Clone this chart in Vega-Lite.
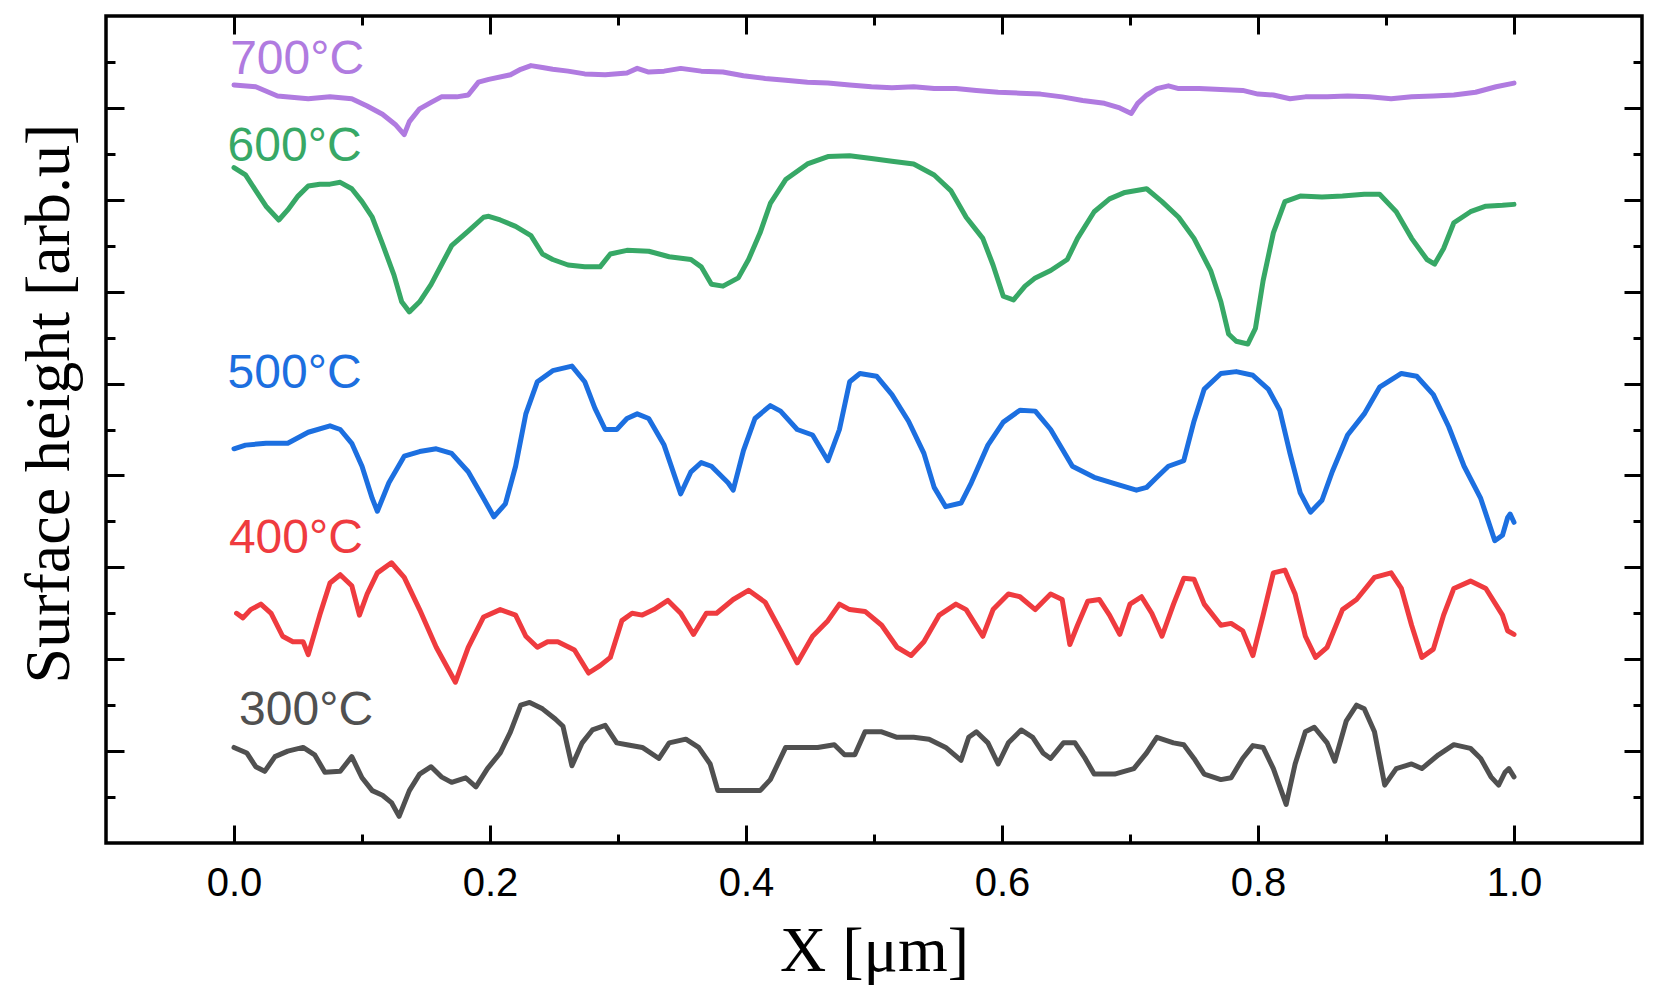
{
  "$schema": "https://vega.github.io/schema/vega-lite/v6.json",
  "width": 1536,
  "height": 827,
  "autosize": {"type": "none"},
  "padding": {"left": 106, "top": 16, "right": 22, "bottom": 153},
  "background": "white",
  "config": {
    "view": {"stroke": "black", "strokeWidth": 3.5},
    "axis": {
      "domain": false,
      "grid": false,
      "tickColor": "black",
      "tickWidth": 3,
      "labelColor": "black",
      "labelFont": "Liberation Sans",
      "labelFontSize": 40,
      "titleFont": "Liberation Serif",
      "titleFontSize": 64,
      "titleFontWeight": "normal",
      "titleColor": "black"
    }
  },
  "datasets": {
    "labels": [
      {"temp": "300°C", "x": 0.004, "height": 0.28},
      {"temp": "400°C", "x": -0.004, "height": 2.16},
      {"temp": "500°C", "x": -0.005, "height": 3.95},
      {"temp": "600°C", "x": -0.005, "height": 6.42},
      {"temp": "700°C", "x": -0.003, "height": 7.37}
    ],
    "profiles": [
      {"temp": "700°C", "x": 0.000, "height": 7.25},
      {"temp": "700°C", "x": 0.017, "height": 7.23},
      {"temp": "700°C", "x": 0.034, "height": 7.13},
      {"temp": "700°C", "x": 0.058, "height": 7.10},
      {"temp": "700°C", "x": 0.075, "height": 7.12},
      {"temp": "700°C", "x": 0.092, "height": 7.10},
      {"temp": "700°C", "x": 0.104, "height": 7.02},
      {"temp": "700°C", "x": 0.116, "height": 6.93},
      {"temp": "700°C", "x": 0.126, "height": 6.82},
      {"temp": "700°C", "x": 0.133, "height": 6.71},
      {"temp": "700°C", "x": 0.137, "height": 6.85},
      {"temp": "700°C", "x": 0.145, "height": 6.99},
      {"temp": "700°C", "x": 0.154, "height": 7.06},
      {"temp": "700°C", "x": 0.162, "height": 7.12},
      {"temp": "700°C", "x": 0.174, "height": 7.12},
      {"temp": "700°C", "x": 0.183, "height": 7.14},
      {"temp": "700°C", "x": 0.191, "height": 7.28},
      {"temp": "700°C", "x": 0.199, "height": 7.31},
      {"temp": "700°C", "x": 0.216, "height": 7.36},
      {"temp": "700°C", "x": 0.224, "height": 7.42},
      {"temp": "700°C", "x": 0.232, "height": 7.46},
      {"temp": "700°C", "x": 0.241, "height": 7.44},
      {"temp": "700°C", "x": 0.249, "height": 7.42},
      {"temp": "700°C", "x": 0.261, "height": 7.40},
      {"temp": "700°C", "x": 0.274, "height": 7.37},
      {"temp": "700°C", "x": 0.290, "height": 7.36},
      {"temp": "700°C", "x": 0.307, "height": 7.38},
      {"temp": "700°C", "x": 0.315, "height": 7.43},
      {"temp": "700°C", "x": 0.324, "height": 7.39},
      {"temp": "700°C", "x": 0.336, "height": 7.40},
      {"temp": "700°C", "x": 0.349, "height": 7.43},
      {"temp": "700°C", "x": 0.365, "height": 7.40},
      {"temp": "700°C", "x": 0.382, "height": 7.39},
      {"temp": "700°C", "x": 0.398, "height": 7.35},
      {"temp": "700°C", "x": 0.415, "height": 7.32},
      {"temp": "700°C", "x": 0.431, "height": 7.30},
      {"temp": "700°C", "x": 0.448, "height": 7.28},
      {"temp": "700°C", "x": 0.464, "height": 7.27},
      {"temp": "700°C", "x": 0.481, "height": 7.25},
      {"temp": "700°C", "x": 0.498, "height": 7.23},
      {"temp": "700°C", "x": 0.514, "height": 7.22},
      {"temp": "700°C", "x": 0.531, "height": 7.23},
      {"temp": "700°C", "x": 0.547, "height": 7.21},
      {"temp": "700°C", "x": 0.564, "height": 7.21},
      {"temp": "700°C", "x": 0.580, "height": 7.19},
      {"temp": "700°C", "x": 0.597, "height": 7.17},
      {"temp": "700°C", "x": 0.614, "height": 7.16},
      {"temp": "700°C", "x": 0.630, "height": 7.15},
      {"temp": "700°C", "x": 0.647, "height": 7.12},
      {"temp": "700°C", "x": 0.663, "height": 7.08},
      {"temp": "700°C", "x": 0.680, "height": 7.05},
      {"temp": "700°C", "x": 0.692, "height": 7.00},
      {"temp": "700°C", "x": 0.701, "height": 6.94},
      {"temp": "700°C", "x": 0.706, "height": 7.05},
      {"temp": "700°C", "x": 0.713, "height": 7.14},
      {"temp": "700°C", "x": 0.721, "height": 7.21},
      {"temp": "700°C", "x": 0.730, "height": 7.24},
      {"temp": "700°C", "x": 0.738, "height": 7.21},
      {"temp": "700°C", "x": 0.754, "height": 7.21},
      {"temp": "700°C", "x": 0.771, "height": 7.20},
      {"temp": "700°C", "x": 0.788, "height": 7.19},
      {"temp": "700°C", "x": 0.800, "height": 7.15},
      {"temp": "700°C", "x": 0.812, "height": 7.14},
      {"temp": "700°C", "x": 0.825, "height": 7.10},
      {"temp": "700°C", "x": 0.837, "height": 7.12},
      {"temp": "700°C", "x": 0.854, "height": 7.12},
      {"temp": "700°C", "x": 0.870, "height": 7.13},
      {"temp": "700°C", "x": 0.887, "height": 7.12},
      {"temp": "700°C", "x": 0.904, "height": 7.10},
      {"temp": "700°C", "x": 0.920, "height": 7.12},
      {"temp": "700°C", "x": 0.937, "height": 7.13},
      {"temp": "700°C", "x": 0.953, "height": 7.14},
      {"temp": "700°C", "x": 0.970, "height": 7.17},
      {"temp": "700°C", "x": 0.986, "height": 7.23},
      {"temp": "700°C", "x": 1.000, "height": 7.27},

      {"temp": "600°C", "x": 0.000, "height": 6.35},
      {"temp": "600°C", "x": 0.009, "height": 6.27},
      {"temp": "600°C", "x": 0.017, "height": 6.10},
      {"temp": "600°C", "x": 0.025, "height": 5.93},
      {"temp": "600°C", "x": 0.035, "height": 5.78},
      {"temp": "600°C", "x": 0.042, "height": 5.89},
      {"temp": "600°C", "x": 0.050, "height": 6.04},
      {"temp": "600°C", "x": 0.058, "height": 6.15},
      {"temp": "600°C", "x": 0.067, "height": 6.17},
      {"temp": "600°C", "x": 0.075, "height": 6.17},
      {"temp": "600°C", "x": 0.083, "height": 6.19},
      {"temp": "600°C", "x": 0.092, "height": 6.12},
      {"temp": "600°C", "x": 0.100, "height": 5.98},
      {"temp": "600°C", "x": 0.108, "height": 5.81},
      {"temp": "600°C", "x": 0.116, "height": 5.52},
      {"temp": "600°C", "x": 0.125, "height": 5.18},
      {"temp": "600°C", "x": 0.131, "height": 4.89},
      {"temp": "600°C", "x": 0.137, "height": 4.78},
      {"temp": "600°C", "x": 0.145, "height": 4.89},
      {"temp": "600°C", "x": 0.154, "height": 5.08},
      {"temp": "600°C", "x": 0.162, "height": 5.29},
      {"temp": "600°C", "x": 0.170, "height": 5.50},
      {"temp": "600°C", "x": 0.183, "height": 5.66},
      {"temp": "600°C", "x": 0.195, "height": 5.81},
      {"temp": "600°C", "x": 0.199, "height": 5.82},
      {"temp": "600°C", "x": 0.208, "height": 5.78},
      {"temp": "600°C", "x": 0.220, "height": 5.71},
      {"temp": "600°C", "x": 0.232, "height": 5.61},
      {"temp": "600°C", "x": 0.241, "height": 5.41},
      {"temp": "600°C", "x": 0.249, "height": 5.35},
      {"temp": "600°C", "x": 0.261, "height": 5.29},
      {"temp": "600°C", "x": 0.274, "height": 5.27},
      {"temp": "600°C", "x": 0.286, "height": 5.27},
      {"temp": "600°C", "x": 0.294, "height": 5.41},
      {"temp": "600°C", "x": 0.307, "height": 5.45},
      {"temp": "600°C", "x": 0.324, "height": 5.44},
      {"temp": "600°C", "x": 0.340, "height": 5.38},
      {"temp": "600°C", "x": 0.357, "height": 5.35},
      {"temp": "600°C", "x": 0.365, "height": 5.27},
      {"temp": "600°C", "x": 0.373, "height": 5.08},
      {"temp": "600°C", "x": 0.382, "height": 5.06},
      {"temp": "600°C", "x": 0.394, "height": 5.15},
      {"temp": "600°C", "x": 0.402, "height": 5.35},
      {"temp": "600°C", "x": 0.411, "height": 5.64},
      {"temp": "600°C", "x": 0.419, "height": 5.96},
      {"temp": "600°C", "x": 0.431, "height": 6.22},
      {"temp": "600°C", "x": 0.448, "height": 6.39},
      {"temp": "600°C", "x": 0.464, "height": 6.47},
      {"temp": "600°C", "x": 0.481, "height": 6.48},
      {"temp": "600°C", "x": 0.498, "height": 6.45},
      {"temp": "600°C", "x": 0.514, "height": 6.42},
      {"temp": "600°C", "x": 0.531, "height": 6.39},
      {"temp": "600°C", "x": 0.547, "height": 6.27},
      {"temp": "600°C", "x": 0.560, "height": 6.10},
      {"temp": "600°C", "x": 0.572, "height": 5.81},
      {"temp": "600°C", "x": 0.585, "height": 5.58},
      {"temp": "600°C", "x": 0.593, "height": 5.29},
      {"temp": "600°C", "x": 0.601, "height": 4.95},
      {"temp": "600°C", "x": 0.609, "height": 4.91},
      {"temp": "600°C", "x": 0.618, "height": 5.06},
      {"temp": "600°C", "x": 0.626, "height": 5.15},
      {"temp": "600°C", "x": 0.638, "height": 5.23},
      {"temp": "600°C", "x": 0.651, "height": 5.35},
      {"temp": "600°C", "x": 0.659, "height": 5.58},
      {"temp": "600°C", "x": 0.672, "height": 5.87},
      {"temp": "600°C", "x": 0.684, "height": 6.01},
      {"temp": "600°C", "x": 0.696, "height": 6.08},
      {"temp": "600°C", "x": 0.713, "height": 6.12},
      {"temp": "600°C", "x": 0.725, "height": 5.98},
      {"temp": "600°C", "x": 0.738, "height": 5.81},
      {"temp": "600°C", "x": 0.750, "height": 5.58},
      {"temp": "600°C", "x": 0.763, "height": 5.23},
      {"temp": "600°C", "x": 0.771, "height": 4.89},
      {"temp": "600°C", "x": 0.777, "height": 4.54},
      {"temp": "600°C", "x": 0.783, "height": 4.46},
      {"temp": "600°C", "x": 0.792, "height": 4.43},
      {"temp": "600°C", "x": 0.798, "height": 4.60},
      {"temp": "600°C", "x": 0.804, "height": 5.12},
      {"temp": "600°C", "x": 0.812, "height": 5.64},
      {"temp": "600°C", "x": 0.821, "height": 5.98},
      {"temp": "600°C", "x": 0.833, "height": 6.04},
      {"temp": "600°C", "x": 0.850, "height": 6.03},
      {"temp": "600°C", "x": 0.866, "height": 6.04},
      {"temp": "600°C", "x": 0.883, "height": 6.06},
      {"temp": "600°C", "x": 0.895, "height": 6.06},
      {"temp": "600°C", "x": 0.908, "height": 5.87},
      {"temp": "600°C", "x": 0.920, "height": 5.58},
      {"temp": "600°C", "x": 0.932, "height": 5.35},
      {"temp": "600°C", "x": 0.938, "height": 5.30},
      {"temp": "600°C", "x": 0.945, "height": 5.47},
      {"temp": "600°C", "x": 0.953, "height": 5.75},
      {"temp": "600°C", "x": 0.966, "height": 5.87},
      {"temp": "600°C", "x": 0.978, "height": 5.93},
      {"temp": "600°C", "x": 0.991, "height": 5.94},
      {"temp": "600°C", "x": 1.000, "height": 5.95},

      {"temp": "500°C", "x": 0.000, "height": 3.29},
      {"temp": "500°C", "x": 0.009, "height": 3.33},
      {"temp": "500°C", "x": 0.025, "height": 3.35},
      {"temp": "500°C", "x": 0.042, "height": 3.35},
      {"temp": "500°C", "x": 0.058, "height": 3.47},
      {"temp": "500°C", "x": 0.075, "height": 3.54},
      {"temp": "500°C", "x": 0.083, "height": 3.50},
      {"temp": "500°C", "x": 0.092, "height": 3.35},
      {"temp": "500°C", "x": 0.100, "height": 3.10},
      {"temp": "500°C", "x": 0.108, "height": 2.75},
      {"temp": "500°C", "x": 0.112, "height": 2.61},
      {"temp": "500°C", "x": 0.121, "height": 2.92},
      {"temp": "500°C", "x": 0.133, "height": 3.21},
      {"temp": "500°C", "x": 0.145, "height": 3.26},
      {"temp": "500°C", "x": 0.158, "height": 3.29},
      {"temp": "500°C", "x": 0.170, "height": 3.24},
      {"temp": "500°C", "x": 0.183, "height": 3.04},
      {"temp": "500°C", "x": 0.195, "height": 2.75},
      {"temp": "500°C", "x": 0.203, "height": 2.55},
      {"temp": "500°C", "x": 0.212, "height": 2.69},
      {"temp": "500°C", "x": 0.220, "height": 3.10},
      {"temp": "500°C", "x": 0.228, "height": 3.67},
      {"temp": "500°C", "x": 0.237, "height": 4.02},
      {"temp": "500°C", "x": 0.249, "height": 4.14},
      {"temp": "500°C", "x": 0.264, "height": 4.19},
      {"temp": "500°C", "x": 0.274, "height": 4.02},
      {"temp": "500°C", "x": 0.282, "height": 3.73},
      {"temp": "500°C", "x": 0.290, "height": 3.50},
      {"temp": "500°C", "x": 0.299, "height": 3.50},
      {"temp": "500°C", "x": 0.307, "height": 3.62},
      {"temp": "500°C", "x": 0.315, "height": 3.67},
      {"temp": "500°C", "x": 0.324, "height": 3.62},
      {"temp": "500°C", "x": 0.336, "height": 3.33},
      {"temp": "500°C", "x": 0.349, "height": 2.80},
      {"temp": "500°C", "x": 0.357, "height": 3.04},
      {"temp": "500°C", "x": 0.365, "height": 3.14},
      {"temp": "500°C", "x": 0.373, "height": 3.10},
      {"temp": "500°C", "x": 0.386, "height": 2.92},
      {"temp": "500°C", "x": 0.390, "height": 2.84},
      {"temp": "500°C", "x": 0.398, "height": 3.27},
      {"temp": "500°C", "x": 0.407, "height": 3.62},
      {"temp": "500°C", "x": 0.419, "height": 3.76},
      {"temp": "500°C", "x": 0.427, "height": 3.70},
      {"temp": "500°C", "x": 0.440, "height": 3.50},
      {"temp": "500°C", "x": 0.452, "height": 3.44},
      {"temp": "500°C", "x": 0.464, "height": 3.16},
      {"temp": "500°C", "x": 0.473, "height": 3.50},
      {"temp": "500°C", "x": 0.481, "height": 4.02},
      {"temp": "500°C", "x": 0.489, "height": 4.11},
      {"temp": "500°C", "x": 0.502, "height": 4.08},
      {"temp": "500°C", "x": 0.514, "height": 3.88},
      {"temp": "500°C", "x": 0.527, "height": 3.59},
      {"temp": "500°C", "x": 0.539, "height": 3.24},
      {"temp": "500°C", "x": 0.547, "height": 2.87},
      {"temp": "500°C", "x": 0.556, "height": 2.66},
      {"temp": "500°C", "x": 0.568, "height": 2.70},
      {"temp": "500°C", "x": 0.576, "height": 2.92},
      {"temp": "500°C", "x": 0.589, "height": 3.33},
      {"temp": "500°C", "x": 0.601, "height": 3.58},
      {"temp": "500°C", "x": 0.614, "height": 3.71},
      {"temp": "500°C", "x": 0.626, "height": 3.70},
      {"temp": "500°C", "x": 0.638, "height": 3.50},
      {"temp": "500°C", "x": 0.655, "height": 3.10},
      {"temp": "500°C", "x": 0.672, "height": 2.98},
      {"temp": "500°C", "x": 0.688, "height": 2.91},
      {"temp": "500°C", "x": 0.705, "height": 2.84},
      {"temp": "500°C", "x": 0.713, "height": 2.87},
      {"temp": "500°C", "x": 0.721, "height": 2.98},
      {"temp": "500°C", "x": 0.730, "height": 3.10},
      {"temp": "500°C", "x": 0.742, "height": 3.16},
      {"temp": "500°C", "x": 0.750, "height": 3.59},
      {"temp": "500°C", "x": 0.758, "height": 3.94},
      {"temp": "500°C", "x": 0.771, "height": 4.11},
      {"temp": "500°C", "x": 0.783, "height": 4.13},
      {"temp": "500°C", "x": 0.796, "height": 4.09},
      {"temp": "500°C", "x": 0.808, "height": 3.94},
      {"temp": "500°C", "x": 0.817, "height": 3.71},
      {"temp": "500°C", "x": 0.825, "height": 3.24},
      {"temp": "500°C", "x": 0.833, "height": 2.81},
      {"temp": "500°C", "x": 0.841, "height": 2.60},
      {"temp": "500°C", "x": 0.850, "height": 2.73},
      {"temp": "500°C", "x": 0.858, "height": 3.04},
      {"temp": "500°C", "x": 0.870, "height": 3.44},
      {"temp": "500°C", "x": 0.883, "height": 3.67},
      {"temp": "500°C", "x": 0.895, "height": 3.96},
      {"temp": "500°C", "x": 0.912, "height": 4.11},
      {"temp": "500°C", "x": 0.924, "height": 4.08},
      {"temp": "500°C", "x": 0.937, "height": 3.88},
      {"temp": "500°C", "x": 0.949, "height": 3.53},
      {"temp": "500°C", "x": 0.961, "height": 3.10},
      {"temp": "500°C", "x": 0.974, "height": 2.75},
      {"temp": "500°C", "x": 0.985, "height": 2.29},
      {"temp": "500°C", "x": 0.991, "height": 2.35},
      {"temp": "500°C", "x": 0.995, "height": 2.54},
      {"temp": "500°C", "x": 0.997, "height": 2.58},
      {"temp": "500°C", "x": 1.000, "height": 2.49},

      {"temp": "400°C", "x": 0.002, "height": 1.50},
      {"temp": "400°C", "x": 0.007, "height": 1.45},
      {"temp": "400°C", "x": 0.013, "height": 1.54},
      {"temp": "400°C", "x": 0.021, "height": 1.60},
      {"temp": "400°C", "x": 0.029, "height": 1.50},
      {"temp": "400°C", "x": 0.038, "height": 1.25},
      {"temp": "400°C", "x": 0.046, "height": 1.19},
      {"temp": "400°C", "x": 0.054, "height": 1.19},
      {"temp": "400°C", "x": 0.058, "height": 1.05},
      {"temp": "400°C", "x": 0.067, "height": 1.48},
      {"temp": "400°C", "x": 0.075, "height": 1.83},
      {"temp": "400°C", "x": 0.083, "height": 1.92},
      {"temp": "400°C", "x": 0.092, "height": 1.80},
      {"temp": "400°C", "x": 0.098, "height": 1.48},
      {"temp": "400°C", "x": 0.104, "height": 1.71},
      {"temp": "400°C", "x": 0.112, "height": 1.94},
      {"temp": "400°C", "x": 0.123, "height": 2.05},
      {"temp": "400°C", "x": 0.133, "height": 1.89},
      {"temp": "400°C", "x": 0.145, "height": 1.54},
      {"temp": "400°C", "x": 0.158, "height": 1.13},
      {"temp": "400°C", "x": 0.173, "height": 0.75},
      {"temp": "400°C", "x": 0.183, "height": 1.13},
      {"temp": "400°C", "x": 0.195, "height": 1.46},
      {"temp": "400°C", "x": 0.208, "height": 1.54},
      {"temp": "400°C", "x": 0.220, "height": 1.48},
      {"temp": "400°C", "x": 0.228, "height": 1.25},
      {"temp": "400°C", "x": 0.237, "height": 1.13},
      {"temp": "400°C", "x": 0.245, "height": 1.19},
      {"temp": "400°C", "x": 0.253, "height": 1.19},
      {"temp": "400°C", "x": 0.266, "height": 1.10},
      {"temp": "400°C", "x": 0.277, "height": 0.85},
      {"temp": "400°C", "x": 0.286, "height": 0.93},
      {"temp": "400°C", "x": 0.294, "height": 1.02},
      {"temp": "400°C", "x": 0.303, "height": 1.42},
      {"temp": "400°C", "x": 0.311, "height": 1.50},
      {"temp": "400°C", "x": 0.319, "height": 1.48},
      {"temp": "400°C", "x": 0.328, "height": 1.54},
      {"temp": "400°C", "x": 0.339, "height": 1.64},
      {"temp": "400°C", "x": 0.349, "height": 1.50},
      {"temp": "400°C", "x": 0.359, "height": 1.27},
      {"temp": "400°C", "x": 0.369, "height": 1.50},
      {"temp": "400°C", "x": 0.377, "height": 1.50},
      {"temp": "400°C", "x": 0.390, "height": 1.65},
      {"temp": "400°C", "x": 0.402, "height": 1.75},
      {"temp": "400°C", "x": 0.415, "height": 1.62},
      {"temp": "400°C", "x": 0.427, "height": 1.31},
      {"temp": "400°C", "x": 0.440, "height": 0.96},
      {"temp": "400°C", "x": 0.452, "height": 1.25},
      {"temp": "400°C", "x": 0.464, "height": 1.42},
      {"temp": "400°C", "x": 0.473, "height": 1.60},
      {"temp": "400°C", "x": 0.481, "height": 1.54},
      {"temp": "400°C", "x": 0.493, "height": 1.52},
      {"temp": "400°C", "x": 0.506, "height": 1.37},
      {"temp": "400°C", "x": 0.518, "height": 1.13},
      {"temp": "400°C", "x": 0.529, "height": 1.04},
      {"temp": "400°C", "x": 0.539, "height": 1.19},
      {"temp": "400°C", "x": 0.551, "height": 1.48},
      {"temp": "400°C", "x": 0.564, "height": 1.60},
      {"temp": "400°C", "x": 0.572, "height": 1.54},
      {"temp": "400°C", "x": 0.585, "height": 1.25},
      {"temp": "400°C", "x": 0.593, "height": 1.54},
      {"temp": "400°C", "x": 0.605, "height": 1.71},
      {"temp": "400°C", "x": 0.614, "height": 1.68},
      {"temp": "400°C", "x": 0.626, "height": 1.54},
      {"temp": "400°C", "x": 0.638, "height": 1.71},
      {"temp": "400°C", "x": 0.647, "height": 1.65},
      {"temp": "400°C", "x": 0.653, "height": 1.16},
      {"temp": "400°C", "x": 0.659, "height": 1.37},
      {"temp": "400°C", "x": 0.667, "height": 1.63},
      {"temp": "400°C", "x": 0.676, "height": 1.65},
      {"temp": "400°C", "x": 0.684, "height": 1.48},
      {"temp": "400°C", "x": 0.692, "height": 1.27},
      {"temp": "400°C", "x": 0.700, "height": 1.60},
      {"temp": "400°C", "x": 0.709, "height": 1.68},
      {"temp": "400°C", "x": 0.717, "height": 1.50},
      {"temp": "400°C", "x": 0.725, "height": 1.25},
      {"temp": "400°C", "x": 0.734, "height": 1.60},
      {"temp": "400°C", "x": 0.742, "height": 1.88},
      {"temp": "400°C", "x": 0.750, "height": 1.87},
      {"temp": "400°C", "x": 0.758, "height": 1.60},
      {"temp": "400°C", "x": 0.771, "height": 1.37},
      {"temp": "400°C", "x": 0.779, "height": 1.39},
      {"temp": "400°C", "x": 0.788, "height": 1.31},
      {"temp": "400°C", "x": 0.796, "height": 1.04},
      {"temp": "400°C", "x": 0.804, "height": 1.48},
      {"temp": "400°C", "x": 0.812, "height": 1.94},
      {"temp": "400°C", "x": 0.821, "height": 1.97},
      {"temp": "400°C", "x": 0.829, "height": 1.71},
      {"temp": "400°C", "x": 0.837, "height": 1.25},
      {"temp": "400°C", "x": 0.845, "height": 1.02},
      {"temp": "400°C", "x": 0.854, "height": 1.13},
      {"temp": "400°C", "x": 0.866, "height": 1.54},
      {"temp": "400°C", "x": 0.877, "height": 1.65},
      {"temp": "400°C", "x": 0.891, "height": 1.89},
      {"temp": "400°C", "x": 0.904, "height": 1.94},
      {"temp": "400°C", "x": 0.912, "height": 1.77},
      {"temp": "400°C", "x": 0.920, "height": 1.37},
      {"temp": "400°C", "x": 0.928, "height": 1.02},
      {"temp": "400°C", "x": 0.937, "height": 1.11},
      {"temp": "400°C", "x": 0.945, "height": 1.48},
      {"temp": "400°C", "x": 0.953, "height": 1.77},
      {"temp": "400°C", "x": 0.966, "height": 1.85},
      {"temp": "400°C", "x": 0.978, "height": 1.77},
      {"temp": "400°C", "x": 0.991, "height": 1.48},
      {"temp": "400°C", "x": 0.995, "height": 1.31},
      {"temp": "400°C", "x": 1.000, "height": 1.27},

      {"temp": "300°C", "x": 0.000, "height": 0.04},
      {"temp": "300°C", "x": 0.010, "height": -0.02},
      {"temp": "300°C", "x": 0.017, "height": -0.17},
      {"temp": "300°C", "x": 0.024, "height": -0.22},
      {"temp": "300°C", "x": 0.032, "height": -0.06},
      {"temp": "300°C", "x": 0.042, "height": 0.00},
      {"temp": "300°C", "x": 0.054, "height": 0.04},
      {"temp": "300°C", "x": 0.063, "height": -0.04},
      {"temp": "300°C", "x": 0.071, "height": -0.23},
      {"temp": "300°C", "x": 0.083, "height": -0.22},
      {"temp": "300°C", "x": 0.092, "height": -0.06},
      {"temp": "300°C", "x": 0.100, "height": -0.29},
      {"temp": "300°C", "x": 0.108, "height": -0.43},
      {"temp": "300°C", "x": 0.116, "height": -0.48},
      {"temp": "300°C", "x": 0.123, "height": -0.56},
      {"temp": "300°C", "x": 0.129, "height": -0.71},
      {"temp": "300°C", "x": 0.137, "height": -0.43},
      {"temp": "300°C", "x": 0.145, "height": -0.25},
      {"temp": "300°C", "x": 0.154, "height": -0.17},
      {"temp": "300°C", "x": 0.162, "height": -0.28},
      {"temp": "300°C", "x": 0.170, "height": -0.34},
      {"temp": "300°C", "x": 0.181, "height": -0.29},
      {"temp": "300°C", "x": 0.189, "height": -0.39},
      {"temp": "300°C", "x": 0.198, "height": -0.19},
      {"temp": "300°C", "x": 0.208, "height": -0.02},
      {"temp": "300°C", "x": 0.216, "height": 0.21},
      {"temp": "300°C", "x": 0.224, "height": 0.50},
      {"temp": "300°C", "x": 0.231, "height": 0.53},
      {"temp": "300°C", "x": 0.241, "height": 0.46},
      {"temp": "300°C", "x": 0.251, "height": 0.35},
      {"temp": "300°C", "x": 0.257, "height": 0.27},
      {"temp": "300°C", "x": 0.264, "height": -0.16},
      {"temp": "300°C", "x": 0.272, "height": 0.09},
      {"temp": "300°C", "x": 0.280, "height": 0.23},
      {"temp": "300°C", "x": 0.290, "height": 0.28},
      {"temp": "300°C", "x": 0.299, "height": 0.09},
      {"temp": "300°C", "x": 0.307, "height": 0.07},
      {"temp": "300°C", "x": 0.319, "height": 0.04},
      {"temp": "300°C", "x": 0.332, "height": -0.08},
      {"temp": "300°C", "x": 0.340, "height": 0.09},
      {"temp": "300°C", "x": 0.353, "height": 0.13},
      {"temp": "300°C", "x": 0.363, "height": 0.04},
      {"temp": "300°C", "x": 0.372, "height": -0.14},
      {"temp": "300°C", "x": 0.378, "height": -0.43},
      {"temp": "300°C", "x": 0.390, "height": -0.43},
      {"temp": "300°C", "x": 0.402, "height": -0.43},
      {"temp": "300°C", "x": 0.411, "height": -0.43},
      {"temp": "300°C", "x": 0.419, "height": -0.31},
      {"temp": "300°C", "x": 0.431, "height": 0.04},
      {"temp": "300°C", "x": 0.444, "height": 0.04},
      {"temp": "300°C", "x": 0.456, "height": 0.04},
      {"temp": "300°C", "x": 0.469, "height": 0.07},
      {"temp": "300°C", "x": 0.477, "height": -0.04},
      {"temp": "300°C", "x": 0.485, "height": -0.04},
      {"temp": "300°C", "x": 0.493, "height": 0.21},
      {"temp": "300°C", "x": 0.506, "height": 0.21},
      {"temp": "300°C", "x": 0.518, "height": 0.15},
      {"temp": "300°C", "x": 0.531, "height": 0.15},
      {"temp": "300°C", "x": 0.543, "height": 0.13},
      {"temp": "300°C", "x": 0.556, "height": 0.04},
      {"temp": "300°C", "x": 0.568, "height": -0.10},
      {"temp": "300°C", "x": 0.574, "height": 0.15},
      {"temp": "300°C", "x": 0.580, "height": 0.21},
      {"temp": "300°C", "x": 0.589, "height": 0.09},
      {"temp": "300°C", "x": 0.597, "height": -0.14},
      {"temp": "300°C", "x": 0.605, "height": 0.09},
      {"temp": "300°C", "x": 0.615, "height": 0.23},
      {"temp": "300°C", "x": 0.624, "height": 0.15},
      {"temp": "300°C", "x": 0.632, "height": -0.02},
      {"temp": "300°C", "x": 0.638, "height": -0.08},
      {"temp": "300°C", "x": 0.648, "height": 0.09},
      {"temp": "300°C", "x": 0.657, "height": 0.09},
      {"temp": "300°C", "x": 0.665, "height": -0.08},
      {"temp": "300°C", "x": 0.672, "height": -0.25},
      {"temp": "300°C", "x": 0.688, "height": -0.25},
      {"temp": "300°C", "x": 0.703, "height": -0.19},
      {"temp": "300°C", "x": 0.713, "height": -0.02},
      {"temp": "300°C", "x": 0.721, "height": 0.15},
      {"temp": "300°C", "x": 0.734, "height": 0.09},
      {"temp": "300°C", "x": 0.742, "height": 0.07},
      {"temp": "300°C", "x": 0.750, "height": -0.08},
      {"temp": "300°C", "x": 0.758, "height": -0.25},
      {"temp": "300°C", "x": 0.771, "height": -0.31},
      {"temp": "300°C", "x": 0.779, "height": -0.29},
      {"temp": "300°C", "x": 0.788, "height": -0.08},
      {"temp": "300°C", "x": 0.796, "height": 0.06},
      {"temp": "300°C", "x": 0.804, "height": 0.04},
      {"temp": "300°C", "x": 0.812, "height": -0.19},
      {"temp": "300°C", "x": 0.822, "height": -0.58},
      {"temp": "300°C", "x": 0.829, "height": -0.14},
      {"temp": "300°C", "x": 0.837, "height": 0.21},
      {"temp": "300°C", "x": 0.844, "height": 0.26},
      {"temp": "300°C", "x": 0.854, "height": 0.09},
      {"temp": "300°C", "x": 0.860, "height": -0.11},
      {"temp": "300°C", "x": 0.869, "height": 0.33},
      {"temp": "300°C", "x": 0.877, "height": 0.50},
      {"temp": "300°C", "x": 0.883, "height": 0.46},
      {"temp": "300°C", "x": 0.891, "height": 0.21},
      {"temp": "300°C", "x": 0.899, "height": -0.37},
      {"temp": "300°C", "x": 0.908, "height": -0.19},
      {"temp": "300°C", "x": 0.920, "height": -0.14},
      {"temp": "300°C", "x": 0.928, "height": -0.19},
      {"temp": "300°C", "x": 0.941, "height": -0.04},
      {"temp": "300°C", "x": 0.953, "height": 0.07},
      {"temp": "300°C", "x": 0.966, "height": 0.03},
      {"temp": "300°C", "x": 0.974, "height": -0.08},
      {"temp": "300°C", "x": 0.982, "height": -0.28},
      {"temp": "300°C", "x": 0.988, "height": -0.37},
      {"temp": "300°C", "x": 0.993, "height": -0.23},
      {"temp": "300°C", "x": 0.996, "height": -0.19},
      {"temp": "300°C", "x": 1.000, "height": -0.28}
    ]
  },
  "layer": [
    {
      "data": {"name": "profiles"},
      "transform": [{"filter": {"field": "temp", "oneOf": ["300°C", "400°C", "500°C"]}}],
      "mark": {"type": "line", "strokeWidth": 5, "strokeJoin": "round", "strokeCap": "round"},
      "encoding": {
        "x": {
          "field": "x", "type": "quantitative",
          "scale": {"domain": [-0.1, 1.1], "nice": false, "zero": false},
          "axis": {
            "orient": "bottom", "values": [0, 0.2, 0.4, 0.6, 0.8, 1.0], "format": ".1f",
            "tickSize": -18, "labelPadding": 70, "labelBaseline": "alphabetic",
            "title": "X [μm]", "titleY": 127, "titleBaseline": "alphabetic"
          }
        },
        "y": {
          "field": "height", "type": "quantitative",
          "scale": {"domain": [-1, 8], "nice": false, "zero": false},
          "axis": {
            "orient": "left", "values": [0, 1, 2, 3, 4, 5, 6, 7], "labels": false,
            "tickSize": -18,
            "title": "Surface height [arb.u]", "titleX": -38, "titleY": 387,
            "titleAngle": 270, "titleBaseline": "alphabetic", "titleAlign": "center"
          }
        },
        "color": {
          "field": "temp", "type": "nominal", "legend": null,
          "scale": {
            "domain": ["300°C", "400°C", "500°C", "600°C", "700°C"],
            "range": ["#505050", "#ef3b3f", "#1c6fe0", "#37a866", "#b07be0"]
          }
        },
        "order": {"field": "x", "type": "quantitative"}
      }
    },
    {
      "data": {"name": "profiles"},
      "transform": [{"filter": {"field": "temp", "oneOf": ["600°C", "700°C"]}}],
      "mark": {"type": "line", "strokeWidth": 5, "strokeJoin": "round", "strokeCap": "round"},
      "encoding": {
        "x": {
          "field": "x", "type": "quantitative",
          "axis": {"orient": "top", "values": [0, 0.2, 0.4, 0.6, 0.8, 1.0], "labels": false, "tickSize": -18, "title": null}
        },
        "y": {
          "field": "height", "type": "quantitative",
          "axis": {"orient": "right", "values": [0, 1, 2, 3, 4, 5, 6, 7], "labels": false, "tickSize": -18, "title": null}
        },
        "color": {"field": "temp", "type": "nominal", "legend": null},
        "order": {"field": "x", "type": "quantitative"}
      }
    },
    {
      "data": {"name": "labels"},
      "transform": [{"filter": {"field": "temp", "oneOf": ["300°C", "400°C", "500°C"]}}],
      "mark": {"type": "text", "align": "left", "baseline": "alphabetic", "font": "Liberation Sans", "fontSize": 48},
      "encoding": {
        "x": {
          "field": "x", "type": "quantitative",
          "axis": {"orient": "bottom", "values": [0.1, 0.3, 0.5, 0.7, 0.9], "labels": false, "tickSize": -9, "title": null}
        },
        "y": {
          "field": "height", "type": "quantitative",
          "axis": {"orient": "left", "values": [-0.5, 0.5, 1.5, 2.5, 3.5, 4.5, 5.5, 6.5, 7.5], "labels": false, "tickSize": -9, "title": null}
        },
        "text": {"field": "temp"},
        "color": {"field": "temp", "type": "nominal", "legend": null}
      }
    },
    {
      "data": {"name": "labels"},
      "transform": [{"filter": {"field": "temp", "oneOf": ["600°C", "700°C"]}}],
      "mark": {"type": "text", "align": "left", "baseline": "alphabetic", "font": "Liberation Sans", "fontSize": 48},
      "encoding": {
        "x": {
          "field": "x", "type": "quantitative",
          "axis": {"orient": "top", "values": [0.1, 0.3, 0.5, 0.7, 0.9], "labels": false, "tickSize": -9, "title": null}
        },
        "y": {
          "field": "height", "type": "quantitative",
          "axis": {"orient": "right", "values": [-0.5, 0.5, 1.5, 2.5, 3.5, 4.5, 5.5, 6.5, 7.5], "labels": false, "tickSize": -9, "title": null}
        },
        "text": {"field": "temp"},
        "color": {"field": "temp", "type": "nominal", "legend": null}
      }
    }
  ],
  "resolve": {"axis": {"x": "independent", "y": "independent"}}
}
